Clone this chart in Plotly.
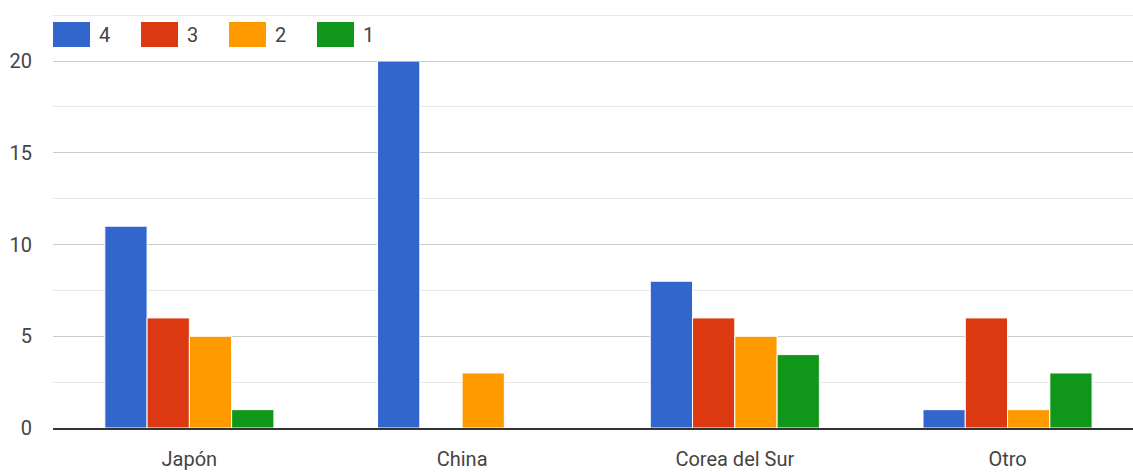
import plotly.graph_objects as go

# Countries on the x axis
categories = ["Japón", "China", "Corea del Sur", "Otro"]

# Counts for each rating
series_names = ["4", "3", "2", "1"]
values_4 = [11, 20, 8, 1]
values_3 = [6, 0, 6, 6]
values_2 = [5, 3, 5, 1]
values_1 = [1, 0, 4, 3]
series_values = [values_4, values_3, values_2, values_1]
series_colors = ["#3366cc", "#dc3912", "#ff9900", "#109618"]

FONT = "Roboto, Liberation Sans, Arial, sans-serif"
TEXT = "#444444"
FS = 20

fig = go.Figure()
for name, vals, color in zip(series_names, series_values, series_colors):
    fig.add_trace(go.Bar(
        x=categories, y=vals, name=name,
        marker=dict(color=color, line=dict(color="white", width=1)),
        showlegend=False,
    ))

# Legend row drawn across the top: wide colour swatch followed by its label
shapes = []
annotations = []
W, H = 1133, 472
for i, (name, color) in enumerate(zip(series_names, series_colors)):
    x0 = 53 + 88 * i
    shapes.append(dict(type="rect", xref="paper", yref="paper",
                       x0=(x0 - 53) / (W - 53), x1=(x0 + 37 - 53) / (W - 53),
                       y0=(428 - 47) / (428 - 6), y1=(428 - 22) / (428 - 6),
                       fillcolor=color, line=dict(width=0), layer="above"))
    annotations.append(dict(xref="paper", yref="paper",
                            x=(x0 + 44 - 53) / (W - 53), y=(428 - 35) / (428 - 6),
                            xanchor="left", yanchor="middle", showarrow=False,
                            text=name, font=dict(family=FONT, size=FS, color=TEXT)))

fig.update_layout(
    width=W, height=H,
    margin=dict(l=53, r=0, t=6, b=44),
    paper_bgcolor="white", plot_bgcolor="white",
    barmode="group", bargap=0.38, bargroupgap=0.0,
    font=dict(family=FONT, size=FS, color=TEXT),
    shapes=shapes, annotations=annotations,
    xaxis=dict(range=[-0.5, 3.46], showgrid=False, zeroline=False,
               showline=True, linecolor="#333333", linewidth=2,
               ticks="", ticklabelstandoff=12,
               tickfont=dict(family=FONT, size=FS, color=TEXT)),
    yaxis=dict(range=[0, 23], tickvals=[0, 5, 10, 15, 20],
               showgrid=True, gridcolor="#cccccc", gridwidth=1,
               minor=dict(dtick=2.5, showgrid=True, gridcolor="#e8e8e8", gridwidth=1),
               zeroline=False, showline=False, ticks="", ticklabelstandoff=20,
               tickfont=dict(family=FONT, size=FS, color=TEXT)),
)

fig.write_html("out.html")
